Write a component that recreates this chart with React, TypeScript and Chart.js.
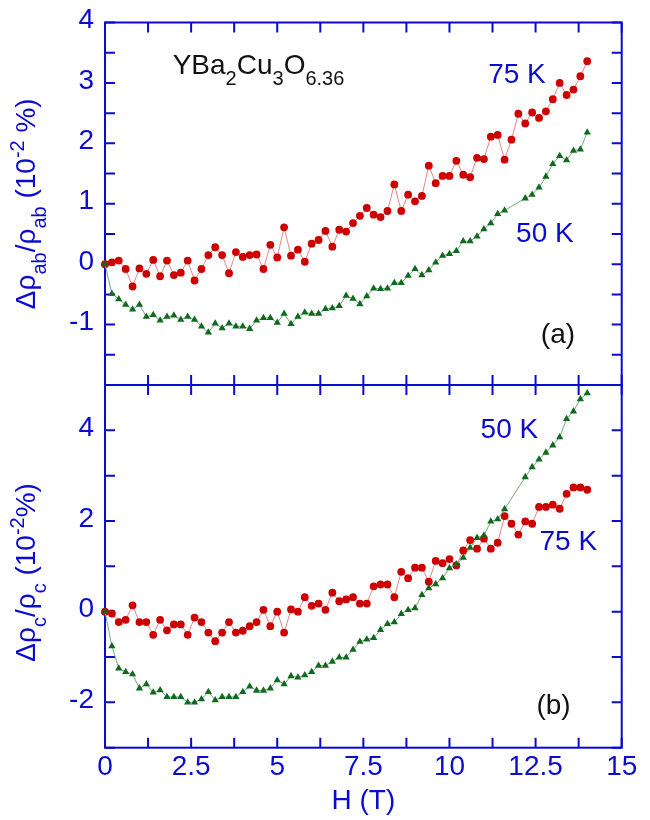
import React, { useEffect, useRef } from 'react';
import { Chart, registerables } from 'chart.js';

Chart.register(...registerables);

const FAMILY = '"Liberation Sans", Arial, Helvetica, sans-serif';
const BLUE = '#0b0bd0';
const BLACK = '#111111';
const RED = '#cc0000';
const RED_LINE = '#e38888';
const GREEN = '#0f6a1e';
const GREEN_LINE = '#74a87c';

// Magnetic field H (T)
const FIELD_T = [
  0, 0.2, 0.4, 0.6, 0.8, 1, 1.2, 1.4, 1.6, 1.8,
  2, 2.2, 2.4, 2.6, 2.8, 3, 3.2, 3.4, 3.6, 3.8,
  4, 4.2, 4.4, 4.6, 4.8, 5, 5.2, 5.4, 5.6, 5.8,
  6, 6.2, 6.4, 6.6, 6.8, 7, 7.2, 7.4, 7.6, 7.8,
  8, 8.2, 8.4, 8.6, 8.8, 9, 9.2, 9.4, 9.6, 9.8,
  10, 10.2, 10.4, 10.6, 10.8, 11, 11.2, 11.4, 11.6, 11.8,
  12, 12.2, 12.4, 12.6, 12.8, 13, 13.2, 13.4, 13.6, 13.8,
  14,
];

// (a) Δρab/ρab (10^-2 %)
const AB_75K = [
  0.0, 0.03, 0.06, -0.08, -0.37, -0.07, -0.16, 0.07, -0.2, 0.06,
  -0.18, -0.14, 0.06, -0.27, -0.08, 0.15, 0.28, 0.15, -0.15, 0.2,
  0.12, 0.15, 0.16, -0.08, 0.32, 0.11, 0.61, 0.14, 0.24, 0.04,
  0.34, 0.4, 0.55, 0.29, 0.57, 0.54, 0.68, 0.8, 0.93, 0.82,
  0.78, 0.88, 1.32, 0.88, 1.15, 1.04, 1.13, 1.63, 1.34, 1.46,
  1.46, 1.71, 1.48, 1.44, 1.76, 1.74, 2.11, 2.14, 1.73, 2.06,
  2.49, 2.33, 2.51, 2.42, 2.53, 2.73, 3.0, 2.8, 2.89, 3.11,
  3.36,
];
const AB_50K = [
  0.0, -0.49, -0.58, -0.67, -0.75, -0.67, -0.87, -0.84, -0.93, -0.87,
  -0.85, -0.92, -0.87, -0.92, -1.03, -1.13, -0.98, -1.06, -0.98, -1.03,
  -1.03, -1.07, -0.93, -0.89, -0.89, -0.97, -0.82, -0.99, -0.87, -0.8,
  -0.82, -0.82, -0.74, -0.73, -0.69, -0.52, -0.57, -0.66, -0.53, -0.4,
  -0.41, -0.4, -0.31, -0.31, -0.19, -0.08, -0.18, -0.1, 0.03, 0.14,
  0.17, 0.22, 0.38, 0.38, 0.46, 0.58, 0.68, 0.83, 0.89, null,
  null, 1.09, 1.15, 1.27, 1.45, 1.66, 1.79, 1.72, 1.88, 1.9,
  2.18,
];

// (b) Δρc/ρc (10^-2 %)
const C_75K = [
  0.0, -0.04, -0.23, -0.18, 0.14, -0.23, -0.23, -0.51, -0.18, -0.41,
  -0.28, -0.28, -0.51, -0.13, -0.23, -0.46, -0.65, -0.46, -0.23, -0.46,
  -0.42, -0.32, -0.23, 0.04, -0.32, 0.0, -0.46, 0.05, 0.0, 0.32,
  0.13, 0.18, 0.04, 0.42, 0.23, 0.27, 0.32, 0.18, 0.18, 0.56,
  0.6, 0.6, 0.32, 0.88, 0.74, 0.97, 0.97, 0.66, 1.12, 1.07,
  1.16, 1.02, 1.35, 1.58, 1.39, 1.61, 1.39, 1.52, 2.11, 1.94,
  1.7, 1.99, 1.94, 2.31, 2.31, 2.36, 2.27, 2.6, 2.74, 2.74,
  2.69,
];
const C_50K = [
  0.0, -0.76, -1.25, -1.33, -1.38, -1.69, -1.6, -1.78, -1.73, -1.88,
  -1.88, -1.88, -2.0, -2.0, -1.93, -1.77, -1.95, -1.88, -1.88, -1.88,
  -1.77, -1.65, -1.74, -1.74, -1.69, -1.51, -1.6, -1.42, -1.45, -1.4,
  -1.33, -1.19, -1.19, -1.1, -1.01, -1.01, -0.84, -0.66, -0.61, -0.58,
  -0.4, -0.27, -0.23, -0.05, 0.04, 0.08, 0.37, 0.52, 0.61, 0.74,
  0.96, 1.05, 1.19, 1.41, 1.63, 1.68, 1.99, 2.04, 2.26, null,
  null, 2.97, 3.19, 3.36, 3.51, 3.67, 3.85, 4.25, 4.42, 4.69,
  4.82,
];

const X_LABEL_TICKS = [0, 2.5, 5, 7.5, 10, 12.5, 15];
const X_MARK_TICKS = [0, 1.25, 2.5, 3.75, 5, 6.25, 7.5, 8.75, 10, 11.25, 12.5, 13.75, 15];
const AB_LABEL_TICKS = [-1, 0, 1, 2, 3, 4];
const AB_MARK_TICKS = [-2, -1.5, -1, -0.5, 0, 0.5, 1, 1.5, 2, 2.5, 3, 3.5, 4];
const C_LABEL_TICKS = [-2, 0, 2, 4];
const C_MARK_TICKS = [-3, -2, -1, 0, 1, 2, 3, 4, 5];

type Seg = [string, number]; // 0 normal, 1 subscript, -1 superscript

const TOP_NOTES = [
  { segs: [['YBa', 0], ['2', 1], ['Cu', 0], ['3', 1], ['O', 0], ['6.36', 1]] as Seg[], x: 1.965, y: 3.14, color: BLACK, align: 'left' },
  { segs: [['75 K', 0]] as Seg[], x: 11.96, y: 3.12, color: BLUE, align: 'center' },
  { segs: [['50 K', 0]] as Seg[], x: 12.77, y: 0.5, color: BLUE, align: 'center' },
  { segs: [['(a)', 0]] as Seg[], x: 13.15, y: -1.17, color: BLACK, align: 'center' },
];
const BOTTOM_NOTES = [
  { segs: [['50 K', 0]] as Seg[], x: 11.74, y: 4.0, color: BLUE, align: 'center' },
  { segs: [['75 K', 0]] as Seg[], x: 13.45, y: 1.52, color: BLUE, align: 'center' },
  { segs: [['(b)', 0]] as Seg[], x: 13.02, y: -2.09, color: BLACK, align: 'center' },
];

const TOP_TITLE: Seg[] = [['Δρ', 0], ['ab', 1], ['/ρ', 0], ['ab', 1], [' (10', 0], ['-2', -1], [' %)', 0]];
const BOTTOM_TITLE: Seg[] = [['Δρ', 0], ['c', 1], ['/ρ', 0], ['c', 1], [' (10', 0], ['-2', -1], ['%)', 0]];

const FONT_SIZE = 28;
const SMALL_SIZE = 20;

function drawRich(ctx: CanvasRenderingContext2D, segs: Seg[], x: number, y: number, align: string, middle: boolean) {
  const widths = segs.map(([t, k]) => {
    ctx.font = `${k ? SMALL_SIZE : FONT_SIZE}px ${FAMILY}`;
    return ctx.measureText(t).width;
  });
  const total = widths.reduce((a, b) => a + b, 0);
  let cx = align === 'center' ? x - total / 2 : x;
  ctx.textAlign = 'left';
  ctx.textBaseline = middle ? 'middle' : 'alphabetic';
  segs.forEach(([t, k], i) => {
    ctx.font = `${k ? SMALL_SIZE : FONT_SIZE}px ${FAMILY}`;
    const dy = k === 1 ? 11 : k === -1 ? -11 : 0;
    ctx.fillText(t, cx, y + dy);
    cx += widths[i];
  });
}

const panelPlugin = {
  id: 'panel',
  beforeDatasetsDraw(chart: any, _args: any, opts: any) {
    const { ctx, chartArea: a, scales } = chart;
    ctx.save();
    ctx.strokeStyle = BLUE;
    ctx.lineWidth = 2;
    ctx.strokeRect(a.left, a.top, a.right - a.left, a.bottom - a.top);
    const L = 10;
    ctx.beginPath();
    for (const v of X_MARK_TICKS) {
      const px = scales.x.getPixelForValue(v);
      ctx.moveTo(px, a.top);
      ctx.lineTo(px, a.top + L);
      ctx.moveTo(px, a.bottom);
      ctx.lineTo(px, a.bottom - L);
    }
    for (const v of opts.yMarks) {
      const py = scales.y.getPixelForValue(v);
      ctx.moveTo(a.left, py);
      ctx.lineTo(a.left + L, py);
      ctx.moveTo(a.right, py);
      ctx.lineTo(a.right - L, py);
    }
    ctx.stroke();
    ctx.restore();
  },
  afterDatasetsDraw(chart: any, _args: any, opts: any) {
    const { ctx, chartArea: a, scales } = chart;
    ctx.save();
    for (const n of opts.notes) {
      ctx.fillStyle = n.color;
      const px = scales.x.getPixelForValue(n.x);
      const py = scales.y.getPixelForValue(n.y);
      drawRich(ctx, n.segs, px, py, n.align, n.align === 'center');
    }
    ctx.restore();
    ctx.save();
    ctx.fillStyle = BLUE;
    ctx.translate(opts.titleX, (a.top + a.bottom) / 2 + opts.titleDy);
    ctx.rotate(-Math.PI / 2);
    drawRich(ctx, opts.title, 0, 0, 'center', false);
    ctx.restore();
  },
};

function makeConfig(
  s75: (number | null)[],
  s50: (number | null)[],
  yMin: number,
  yMax: number,
  yLabels: number[],
  yMarks: number[],
  notes: any[],
  title: Seg[],
  titleDy: number,
  showX: boolean,
  padding: any,
) {
  const font = { family: FAMILY, size: FONT_SIZE };
  return {
    type: 'line',
    data: {
      labels: FIELD_T,
      datasets: [
        {
          data: FIELD_T.map((h, i) => ({ x: h, y: s50[i] })),
          borderColor: GREEN_LINE,
          borderWidth: 1,
          pointStyle: 'triangle',
          pointRadius: 4.2,
          pointBackgroundColor: GREEN,
          pointBorderColor: GREEN,
          pointBorderWidth: 0,
          spanGaps: true,
          tension: 0,
          clip: false,
        },
        {
          data: FIELD_T.map((h, i) => ({ x: h, y: s75[i] })),
          borderColor: RED_LINE,
          borderWidth: 1,
          pointStyle: 'circle',
          pointRadius: 3.9,
          pointBackgroundColor: RED,
          pointBorderColor: RED,
          pointBorderWidth: 0,
          spanGaps: true,
          tension: 0,
          clip: false,
        },
      ],
    },
    options: {
      animation: false,
      responsive: false,
      maintainAspectRatio: false,
      devicePixelRatio: 1,
      layout: { padding },
      plugins: {
        legend: { display: false },
        tooltip: { enabled: false },
        panel: { yMarks, notes, title, titleX: 35, titleDy },
      },
      scales: {
        x: {
          type: 'linear',
          min: 0,
          max: 15,
          display: showX,
          grid: { display: false, drawTicks: false },
          border: { display: false },
          afterBuildTicks: (s: any) => {
            s.ticks = X_LABEL_TICKS.map((v) => ({ value: v }));
          },
          ticks: { font, color: BLUE, padding: 3, maxRotation: 0, autoSkip: false, callback: (v: any) => String(v) },
          title: { display: true, text: 'H (T)', font, color: BLUE, padding: { top: 0, bottom: 2 } },
          afterFit: (s: any) => {
            s.height = showX ? 72.3 : 0;
            s.paddingLeft = 0;
            s.paddingRight = 0;
          },
        },
        y: {
          type: 'linear',
          min: yMin,
          max: yMax,
          grid: { display: false, drawTicks: false },
          border: { display: false },
          afterBuildTicks: (s: any) => {
            s.ticks = yLabels.map((v) => ({ value: v }));
          },
          ticks: { font, color: BLUE, padding: 11, labelOffset: -2, callback: (v: any) => String(v) },
          afterFit: (s: any) => {
            s.width = 105;
            s.paddingTop = 0;
            s.paddingBottom = 0;
          },
        },
      },
    },
    plugins: [panelPlugin],
  };
}

export default function App() {
  const topRef = useRef<HTMLCanvasElement>(null);
  const botRef = useRef<HTMLCanvasElement>(null);

  useEffect(() => {
    const top = new Chart(
      topRef.current as HTMLCanvasElement,
      makeConfig(AB_75K, AB_50K, -2, 4, AB_LABEL_TICKS, AB_MARK_TICKS, TOP_NOTES, TOP_TITLE, 0, false, {
        top: 22.5,
        bottom: 5,
        left: 0,
        right: 28.3,
      }) as any,
    );
    const bot = new Chart(
      botRef.current as HTMLCanvasElement,
      makeConfig(C_75K, C_50K, -3, 5, C_LABEL_TICKS, C_MARK_TICKS, BOTTOM_NOTES, BOTTOM_TITLE, 6, true, {
        top: 5,
        bottom: 0,
        left: 0,
        right: 28.3,
      }) as any,
    );
    return () => {
      top.destroy();
      bot.destroy();
    };
  }, []);

  return (
    <div style={{ position: 'absolute', left: 0, top: 0, width: 650, height: 820, background: '#fff' }}>
      <canvas ref={topRef} width={650} height={390} style={{ position: 'absolute', left: 0, top: 0, width: 650, height: 390 }} />
      <canvas ref={botRef} width={650} height={440} style={{ position: 'absolute', left: 0, top: 380, width: 650, height: 440 }} />
    </div>
  );
}
